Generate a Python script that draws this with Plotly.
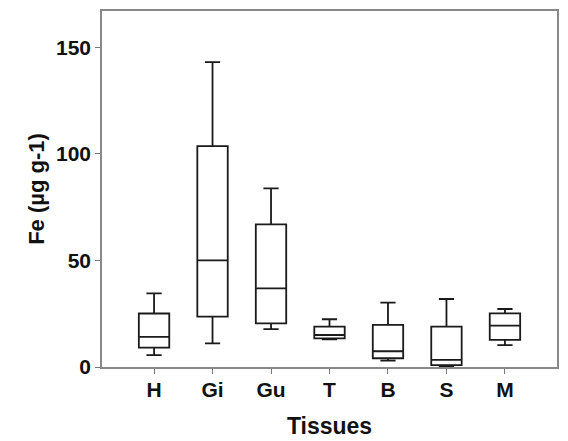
import plotly.graph_objects as go

tissues = ["H", "Gi", "Gu", "T", "B", "S", "M"]
lower = [5.6, 11.1, 17.8, 13.0, 3.0, 0.3, 10.3]
q1 = [9.1, 23.6, 20.5, 13.4, 4.1, 0.9, 12.7]
median = [14.1, 50.0, 36.9, 15.0, 7.4, 3.3, 19.4]
q3 = [25.1, 103.6, 66.9, 18.9, 19.8, 18.9, 25.2]
upper = [34.5, 143.0, 83.8, 22.4, 30.2, 31.9, 27.2]

fig = go.Figure()
fig.add_trace(go.Box(
    x=list(range(len(tissues))),
    q1=q1, median=median, q3=q3,
    lowerfence=lower, upperfence=upper,
    width=0.52, whiskerwidth=0.5,
    line=dict(color="#1a1a1a", width=1.8),
    fillcolor="white",
    boxpoints=False,
    showlegend=False,
    hoverinfo="skip",
))

font_family = "Liberation Sans, Arial, sans-serif"
fig.update_layout(
    width=568, height=441,
    margin=dict(l=102, r=11, t=11, b=74),
    paper_bgcolor="white", plot_bgcolor="white",
    font=dict(family=font_family, color="#111111"),
    xaxis=dict(
        range=[-0.89, 6.89],
        tickmode="array", tickvals=list(range(len(tissues))), ticktext=tissues,
        ticks="outside", ticklen=5, tickcolor="#777777",
        tickfont=dict(size=21, family=font_family, weight="bold"),
        ticklabelstandoff=-2,
        showline=True, linecolor="#888888", linewidth=1.5, mirror=True,
        showgrid=False, zeroline=False, automargin=False,
        title=dict(text="<b>Tissues</b>", font=dict(size=23), standoff=18),
    ),
    yaxis=dict(
        range=[0, 167],
        tickvals=[0, 50, 100, 150],
        ticks="outside", ticklen=5, tickcolor="#777777",
        tickfont=dict(size=21, family=font_family, weight="bold"),
        showline=True, linecolor="#888888", linewidth=1.5, mirror=True,
        showgrid=False, zeroline=False, automargin=False,
        title=dict(text="<b>Fe (µg g-1)</b>", font=dict(size=22), standoff=5),
    ),
)

fig.write_html(
    "out.html",
    config={"displayModeBar": False},
    post_script="document.body.style.margin='0';document.body.style.overflow='hidden';",
)
